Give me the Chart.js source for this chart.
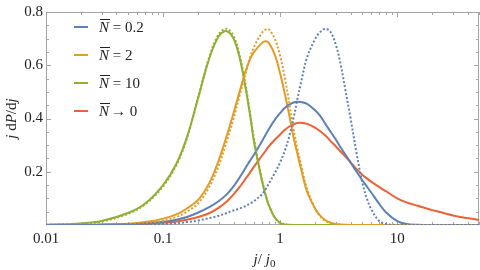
<!DOCTYPE html>
<html><head><meta charset="utf-8">
<script src="https://cdn.jsdelivr.net/npm/chart.js@4/dist/chart.umd.min.js"></script>
<style>html,body{margin:0;padding:0;background:#fff;}#c{display:block;}</style>
</head><body>
<canvas id="c" width="480" height="270" style="width:480px;height:270px"></canvas>
<script>
// ---- data ----
const jValues = [0.01,0.02,0.03,0.05,0.07,0.1,0.13,0.16,0.2,0.25,0.3,0.35,0.4,0.45,0.5,0.55,0.6,0.7,0.75,0.8,0.9,1,1.1,1.2,1.3,1.4,1.5,1.7,2,2.2,2.45,2.7,3,3.3,3.6,4,4.5,5,5.5,6,7,8,10,12,15,20,30,50];

const n02Solid = [0,0,0.001,0.003,0.006,0.012,0.02,0.03,0.047,0.068,0.09,0.115,0.145,0.178,0.21,0.24,0.265,0.315,0.338,0.36,0.395,0.42,0.44,0.452,0.46,0.463,0.462,0.455,0.43,0.41,0.378,0.35,0.32,0.29,0.265,0.235,0.2,0.17,0.145,0.122,0.08,0.048,0.015,0.004,0.001,0,0,0];
const n02Dotted = [0,0,0,0.001,0.002,0.004,0.007,0.011,0.017,0.026,0.035,0.045,0.055,0.062,0.07,0.08,0.09,0.115,0.134,0.155,0.195,0.235,0.28,0.335,0.4,0.47,0.53,0.63,0.7,0.725,0.737,0.725,0.675,0.6,0.51,0.4,0.27,0.165,0.1,0.06,0.015,0.004,0,0,0,0,0,0];
const n2Solid = [0,0.001,0.002,0.005,0.011,0.024,0.04,0.062,0.095,0.16,0.245,0.335,0.42,0.5,0.57,0.62,0.65,0.684,0.69,0.684,0.64,0.57,0.49,0.41,0.33,0.27,0.215,0.125,0.06,0.035,0.017,0.009,0.004,0.002,0.001,0,0,0,0,0,0,0,0,0,0,0,0,0];
const n2Dotted = [0,0,0.001,0.003,0.007,0.016,0.03,0.05,0.082,0.145,0.225,0.315,0.4,0.485,0.56,0.625,0.67,0.722,0.734,0.735,0.7,0.635,0.55,0.455,0.36,0.29,0.23,0.135,0.06,0.033,0.015,0.007,0.003,0.001,0,0,0,0,0,0,0,0,0,0,0,0,0,0];
const n10Solid = [0.001,0.006,0.015,0.045,0.08,0.15,0.23,0.33,0.48,0.63,0.71,0.728,0.7,0.63,0.53,0.42,0.31,0.165,0.113,0.075,0.028,0.008,0.002,0.0005,0,0,0,0,0,0,0,0,0,0,0,0,0,0,0,0,0,0,0,0,0,0,0,0];
const n10Dotted = [0.001,0.005,0.013,0.042,0.077,0.145,0.225,0.325,0.48,0.635,0.718,0.737,0.71,0.64,0.54,0.43,0.32,0.17,0.116,0.075,0.027,0.007,0.002,0.0005,0,0,0,0,0,0,0,0,0,0,0,0,0,0,0,0,0,0,0,0,0,0,0,0];
const n0Solid = [0,0,0.001,0.002,0.004,0.008,0.013,0.02,0.03,0.045,0.065,0.088,0.115,0.142,0.17,0.195,0.22,0.26,0.278,0.295,0.32,0.34,0.358,0.37,0.378,0.383,0.384,0.38,0.365,0.352,0.335,0.315,0.295,0.275,0.258,0.235,0.21,0.19,0.175,0.163,0.143,0.127,0.1,0.085,0.072,0.056,0.036,0.019];

const xTickValues = [0.01,0.1,1,10];
const xTickLabels = ['0.01','0.1','1','10'];
const yTickValues = [0.2,0.4,0.6,0.8];
const yTickLabels = ['0.2','0.4','0.6','0.8'];
const legendTexts = [' = 0.2',' = 2',' = 10','\u2192 0'];

// ---- styling ----
const BLUE='#5E81B5', ORANGE='#E19C24', GREEN='#8FB032', RED='#EB6235';
const FONT='"Liberation Serif", "DejaVu Serif", serif';

const series = [
  {vals:n02Dotted, color:BLUE, dash:[2,2]},
  {vals:n2Dotted, color:ORANGE, dash:[2,2]},
  {vals:n10Dotted, color:GREEN, dash:[2,2]},
  {vals:n02Solid, color:BLUE, dash:[]},
  {vals:n2Solid, color:ORANGE, dash:[]},
  {vals:n10Solid, color:GREEN, dash:[]},
  {vals:n0Solid, color:RED, dash:[]}
];
const legendColors = [BLUE, ORANGE, GREEN, RED];

function drawParts(ctx, parts, x, y, align){
  let total=0;
  const w = parts.map(p=>{ctx.font=(p[1]?'italic ':'')+p[2]+'px '+FONT; const m=ctx.measureText(p[0]).width; total+=m; return m;});
  let cx = align==='center' ? x-total/2 : x;
  parts.forEach((p,i)=>{ctx.font=(p[1]?'italic ':'')+p[2]+'px '+FONT; ctx.fillText(p[0],cx,y+(p[3]||0)); cx+=w[i];});
}

const decorPlugin = {
  id:'decor',
  beforeDatasetsDraw(chart){
    const {ctx, chartArea:a, scales} = chart;
    const xs=scales.x, ys=scales.y;
    ctx.save();
    ctx.strokeStyle='#a4a4a4'; ctx.lineWidth=1;
    ctx.strokeRect(a.left+0.5,a.top+0.5,a.right-a.left-1,a.bottom-a.top-1);
    ctx.beginPath();
    for(let e=-2;e<=1;e++){
      for(let k=1;k<=9;k++){
        const v=k*Math.pow(10,e);
        if(v<0.01||v>50) continue;
        const px=Math.round(xs.getPixelForValue(v))+0.5;
        const len = k===1?5:3;
        ctx.moveTo(px,a.bottom); ctx.lineTo(px,a.bottom-len);
        ctx.moveTo(px,a.top); ctx.lineTo(px,a.top+len);
      }
    }
    for(let i=1;i<16;i++){
      const v=i*0.05;
      const py=Math.round(ys.getPixelForValue(v))+0.5;
      const len = i%4===0?5:3;
      ctx.moveTo(a.left,py); ctx.lineTo(a.left+len,py);
      ctx.moveTo(a.right,py); ctx.lineTo(a.right-len,py);
    }
    ctx.stroke();
    ctx.restore();
  },
  afterDraw(chart){
    const {ctx, chartArea:a} = chart;
    ctx.save();
    ctx.fillStyle='#222';
    ctx.textBaseline='alphabetic';
    const rows=[27,55,83,111];
    rows.forEach((ry,i)=>{
      ctx.strokeStyle=legendColors[i]; ctx.lineWidth=2;
      ctx.beginPath(); ctx.moveTo(74,ry); ctx.lineTo(88,ry); ctx.stroke();
      ctx.fillStyle='#222';
      ctx.font='italic 15px '+FONT;
      const nx=99, nw=ctx.measureText('N').width;
      ctx.fillText('N',nx,ry+5);
      ctx.strokeStyle='#222'; ctx.lineWidth=1;
      ctx.beginPath(); ctx.moveTo(nx+1,ry-7.5); ctx.lineTo(nx+nw+1,ry-7.5); ctx.stroke();
      ctx.font='15px '+FONT;
      ctx.fillText(legendTexts[i],nx+nw+(i===3?2:0),ry+5);
    });
    ctx.fillStyle='#222';
    drawParts(ctx,[['j',true,15,0],['/',false,15,0],[' j',true,15,0],['0',false,11,3]],(a.left+a.right)/2+2,264,'center');
    ctx.translate(16,(a.top+a.bottom)/2);
    ctx.rotate(-Math.PI/2);
    drawParts(ctx,[['j',true,15,0],[' d',false,15,0],['P',true,15,0],['/d',false,15,0],['j',true,15,0]],0,0,'center');
    ctx.restore();
  }
};

new Chart(document.getElementById('c'),{
  type:'line',
  data:{datasets: series.map(s=>({
    data: jValues.map((j,i)=>({x:j,y:s.vals[i]})),
    borderColor:s.color, borderWidth:2, borderDash:s.dash, borderCapStyle:'butt',
    pointRadius:0, fill:false, tension:0.35
  }))},
  options:{
    responsive:false, animation:false, devicePixelRatio:1,
    layout:{padding:{top:9,right:1,left:0,bottom:0}},
    plugins:{legend:{display:false}, tooltip:{enabled:false}},
    scales:{
      x:{type:'logarithmic', min:0.01, max:50,
         afterBuildTicks:s=>{s.ticks=xTickValues.map(v=>({value:v}));},
         afterFit:s=>{s.height=45;},
         grid:{display:false, drawTicks:false}, border:{display:false},
         ticks:{autoSkip:false, maxRotation:0, padding:5, color:'#222', font:{family:FONT,size:15},
                callback:(v)=>{const i=xTickValues.indexOf(v); return i>=0?xTickLabels[i]:'';}}},
      y:{type:'linear', min:0, max:0.8,
         afterBuildTicks:s=>{s.ticks=yTickValues.map(v=>({value:v}));},
         afterFit:s=>{s.width=46;},
         grid:{display:false, drawTicks:false}, border:{display:false},
         ticks:{padding:3, color:'#222', font:{family:FONT,size:15},
                callback:(v)=>{const i=yTickValues.indexOf(v); return i>=0?yTickLabels[i]:'';}}}
    }
  },
  plugins:[decorPlugin]
});
</script>
</body></html>
